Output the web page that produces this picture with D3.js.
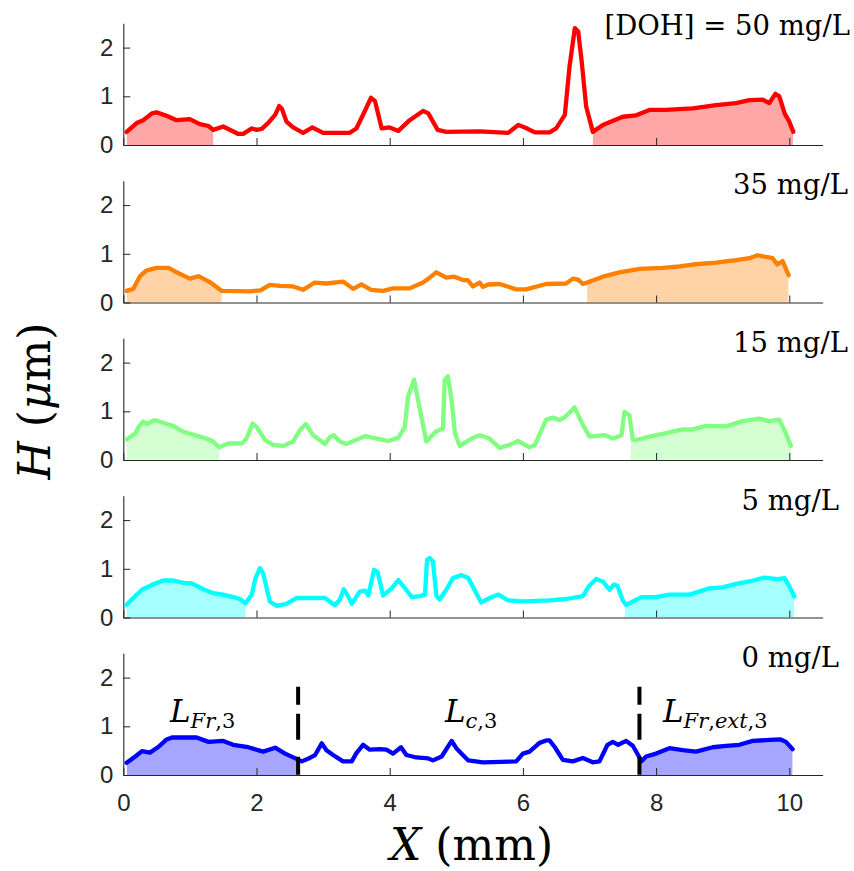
<!DOCTYPE html>
<html><head><meta charset="utf-8">
<script src="https://cdn.jsdelivr.net/npm/d3@7"></script>
<style>html,body{margin:0;padding:0;background:#fff}</style>
</head><body>
<div id="chart"></div>
<script>
// ---- data (X in mm, H in µm) ----
const panelLabels = ["[DOH] = 50 mg/L", "35 mg/L", "15 mg/L", "5 mg/L", "0 mg/L"];
const seriesColors = ["#ff0000", "#ff8000", "#80ff80", "#00ffff", "#0000ff"];
const xTicks = [0, 2, 4, 6, 8, 10];
const yTicks = [0, 1, 2];

const h50 = [[0.05,0.27],[0.2,0.45],[0.3,0.51],[0.43,0.65],[0.5,0.67],[0.65,0.6],[0.8,0.51],[1.0,0.53],[1.15,0.43],[1.28,0.39],[1.35,0.31],[1.5,0.38],[1.72,0.23],[1.8,0.23],[1.93,0.34],[2.0,0.31],[2.08,0.33],[2.18,0.46],[2.28,0.62],[2.34,0.8],[2.38,0.75],[2.45,0.48],[2.55,0.36],[2.7,0.25],[2.84,0.36],[3.0,0.25],[3.4,0.25],[3.5,0.34],[3.6,0.62],[3.72,0.97],[3.78,0.9],[3.88,0.34],[4.0,0.36],[4.13,0.29],[4.3,0.51],[4.5,0.7],[4.58,0.65],[4.72,0.31],[4.85,0.27],[5.35,0.28],[5.78,0.25],[5.93,0.41],[6.03,0.36],[6.18,0.26],[6.4,0.26],[6.5,0.34],[6.63,0.62],[6.7,1.61],[6.78,2.4],[6.83,2.33],[6.88,1.75],[6.95,0.79],[7.05,0.27],[7.2,0.41],[7.5,0.58],[7.7,0.61],[7.9,0.72],[8.15,0.72],[8.55,0.75],[8.9,0.82],[9.2,0.86],[9.4,0.92],[9.6,0.93],[9.7,0.86],[9.79,1.05],[9.85,1.0],[9.93,0.65],[10.0,0.48],[10.06,0.27]];
const h35 = [[0.05,0.24],[0.15,0.28],[0.25,0.54],[0.35,0.66],[0.5,0.71],[0.68,0.71],[0.8,0.62],[1.0,0.49],[1.13,0.54],[1.3,0.42],[1.475,0.24],[1.9,0.23],[2.06,0.25],[2.2,0.36],[2.35,0.34],[2.55,0.33],[2.7,0.26],[2.875,0.41],[3.05,0.39],[3.3,0.43],[3.45,0.28],[3.575,0.37],[3.72,0.26],[3.9,0.24],[4.05,0.29],[4.3,0.29],[4.5,0.41],[4.6,0.51],[4.7,0.62],[4.85,0.51],[4.97,0.53],[5.1,0.46],[5.17,0.46],[5.25,0.33],[5.35,0.41],[5.4,0.32],[5.48,0.37],[5.65,0.38],[5.9,0.27],[6.05,0.27],[6.35,0.38],[6.65,0.39],[6.75,0.49],[6.83,0.47],[6.9,0.38],[6.965,0.41],[7.2,0.53],[7.45,0.62],[7.75,0.69],[8.1,0.71],[8.35,0.74],[8.55,0.78],[8.9,0.82],[9.2,0.87],[9.4,0.91],[9.525,0.97],[9.75,0.91],[9.82,0.78],[9.9,0.85],[9.99,0.56]];
const h15 = [[0.05,0.42],[0.18,0.55],[0.23,0.68],[0.3,0.79],[0.35,0.74],[0.475,0.82],[0.63,0.75],[0.75,0.7],[0.9,0.58],[1.05,0.52],[1.25,0.44],[1.35,0.38],[1.44,0.26],[1.575,0.34],[1.78,0.34],[1.85,0.44],[1.94,0.75],[2.0,0.68],[2.13,0.41],[2.25,0.31],[2.4,0.29],[2.55,0.38],[2.65,0.61],[2.74,0.74],[2.85,0.51],[3.03,0.33],[3.1,0.47],[3.16,0.51],[3.25,0.38],[3.35,0.33],[3.63,0.49],[3.85,0.43],[3.975,0.39],[4.13,0.46],[4.225,0.67],[4.275,1.3],[4.365,1.65],[4.45,1.06],[4.55,0.38],[4.69,0.58],[4.8,0.65],[4.825,1.64],[4.875,1.72],[4.93,1.22],[4.98,0.55],[5.05,0.29],[5.23,0.44],[5.35,0.51],[5.5,0.44],[5.65,0.25],[5.8,0.31],[5.925,0.39],[6.1,0.26],[6.18,0.31],[6.35,0.83],[6.45,0.87],[6.55,0.82],[6.63,0.88],[6.775,1.08],[6.9,0.72],[7.0,0.48],[7.23,0.51],[7.35,0.44],[7.48,0.51],[7.525,0.99],[7.6,0.92],[7.65,0.42],[7.7,0.41],[7.9,0.48],[8.15,0.55],[8.4,0.63],[8.55,0.63],[8.75,0.7],[9.05,0.69],[9.3,0.8],[9.55,0.85],[9.7,0.8],[9.85,0.83],[9.93,0.6],[10.025,0.29]];
const h5 = [[0.05,0.26],[0.15,0.4],[0.28,0.57],[0.43,0.67],[0.6,0.76],[0.75,0.76],[0.9,0.71],[1.03,0.7],[1.2,0.58],[1.35,0.5],[1.5,0.47],[1.65,0.42],[1.75,0.38],[1.835,0.29],[1.93,0.47],[1.985,0.81],[2.05,1.01],[2.1,0.91],[2.2,0.33],[2.3,0.24],[2.45,0.28],[2.6,0.4],[2.85,0.4],[3.03,0.4],[3.175,0.25],[3.25,0.36],[3.31,0.58],[3.37,0.45],[3.43,0.28],[3.55,0.53],[3.63,0.55],[3.68,0.45],[3.765,0.98],[3.82,0.93],[3.9,0.45],[4.03,0.6],[4.13,0.77],[4.23,0.6],[4.33,0.42],[4.45,0.44],[4.53,0.47],[4.56,1.18],[4.6,1.22],[4.65,1.15],[4.7,0.45],[4.75,0.37],[4.85,0.57],[4.95,0.81],[5.08,0.87],[5.18,0.81],[5.28,0.55],[5.375,0.31],[5.5,0.4],[5.63,0.47],[5.78,0.35],[6.0,0.33],[6.4,0.35],[6.65,0.38],[6.9,0.44],[6.99,0.64],[7.1,0.79],[7.2,0.74],[7.3,0.57],[7.37,0.68],[7.42,0.65],[7.5,0.35],[7.55,0.26],[7.78,0.42],[8.0,0.42],[8.2,0.47],[8.5,0.47],[8.8,0.6],[9.0,0.62],[9.2,0.69],[9.4,0.74],[9.625,0.82],[9.83,0.79],[9.93,0.81],[10.0,0.64],[10.075,0.43]];
const h0 = [[0.05,0.25],[0.18,0.38],[0.28,0.49],[0.4,0.46],[0.53,0.58],[0.65,0.73],[0.73,0.77],[1.1,0.77],[1.28,0.68],[1.5,0.7],[1.65,0.62],[1.85,0.58],[2.1,0.48],[2.28,0.56],[2.43,0.44],[2.6,0.33],[2.68,0.28],[2.8,0.35],[2.88,0.41],[2.98,0.65],[3.05,0.51],[3.15,0.41],[3.3,0.28],[3.43,0.28],[3.5,0.45],[3.6,0.62],[3.7,0.52],[3.85,0.53],[3.95,0.52],[4.05,0.44],[4.17,0.57],[4.25,0.41],[4.4,0.36],[4.58,0.34],[4.65,0.3],[4.78,0.38],[4.93,0.7],[5.0,0.55],[5.18,0.3],[5.4,0.26],[5.9,0.28],[6.0,0.44],[6.1,0.48],[6.25,0.66],[6.35,0.71],[6.4,0.71],[6.48,0.57],[6.6,0.31],[6.75,0.28],[6.9,0.35],[7.05,0.26],[7.15,0.28],[7.27,0.62],[7.35,0.68],[7.43,0.62],[7.55,0.7],[7.65,0.6],[7.73,0.41],[7.78,0.28],[7.85,0.38],[8.0,0.44],[8.2,0.55],[8.4,0.51],[8.6,0.48],[8.85,0.57],[9.05,0.6],[9.25,0.62],[9.45,0.7],[9.7,0.72],[9.87,0.73],[9.95,0.68],[10.05,0.53]];

// shaded front regions [start, end] in mm
const fills50 = [[0.05,1.35],[7.05,10.06]];
const fills35 = [[0.05,1.475],[6.965,9.99]];
const fills15 = [[0.05,1.44],[7.62,10.025]];
const fills5  = [[0.05,1.835],[7.535,10.075]];
const fills0  = [[0.05,2.625],[7.75,10.05]];

// boundaries on the 0 mg/L panel
const boundaries = [2.625, 7.75];
const boundaryTop = 1.81;

const series = [h50, h35, h15, h5, h0];
const fillRanges = [fills50, fills35, fills15, fills5, fills0];

// ---- layout ----
const W = 854, H = 871;
const bottoms = [145, 302.5, 460, 617.5, 775];
const panelH = 121.75;
const axisColor = "#262626";

const svg = d3.select("#chart").append("svg").attr("width", W).attr("height", H);
const x = d3.scaleLinear().domain([0, 10.5]).range([123.3, 822.6]);

series.forEach((data, i) => {
  const y0 = bottoms[i];
  const y = d3.scaleLinear().domain([0, 2.5]).range([y0, y0 - panelH]);
  const g = svg.append("g");

  // fill regions (clipped areas)
  fillRanges[i].forEach((r, j) => {
    const id = `clip-${i}-${j}`;
    svg.append("clipPath").attr("id", id).append("rect")
      .attr("x", x(r[0])).attr("y", y(2.5)).attr("width", x(r[1]) - x(r[0])).attr("height", panelH);
    g.append("path").datum(data)
      .attr("clip-path", `url(#${id})`)
      .attr("fill", seriesColors[i]).attr("fill-opacity", 0.35)
      .attr("d", d3.area().x(d => x(d[0])).y0(y(0)).y1(d => y(d[1])));
  });

  // axes
  const ax = g.append("g").attr("transform", `translate(0,${y0})`)
    .call(d3.axisBottom(x).tickValues(xTicks).tickSizeInner(-7).tickSizeOuter(0).tickPadding(19)
      .tickFormat(i === 4 ? d3.format("d") : () => ""));
  const ay = g.append("g").attr("transform", `translate(${x(0)},0)`)
    .call(d3.axisLeft(y).tickValues(yTicks).tickSizeInner(-7).tickSizeOuter(0).tickPadding(10)
      .tickFormat(d3.format("d")));
  [ax, ay].forEach(a => {
    a.select(".domain").attr("stroke", axisColor).attr("stroke-width", 1.1);
    a.selectAll(".tick line").attr("stroke", axisColor).attr("stroke-width", 1);
    a.selectAll(".tick text").attr("fill", axisColor)
      .style("font-family", "'Liberation Sans', Arial, sans-serif").style("font-size", "24px");
  });

  // line
  g.append("path").datum(data)
    .attr("fill", "none").attr("stroke", seriesColors[i]).attr("stroke-width", 4.3)
    .attr("stroke-linejoin", "round").attr("stroke-linecap", "round")
    .attr("d", d3.line().x(d => x(d[0])).y(d => y(d[1])));

  // panel label
  const lblX = [850, 848, 848, 839, 839][i];
  const lblY = [35, 194, 352, 510, 667][i];
  svg.append("text").attr("x", lblX).attr("y", lblY).attr("text-anchor", "end")
    .style("font-family", "'DejaVu Serif', serif").style("font-size", "27.5px").attr("fill", "#000")
    .text(panelLabels[i]);

  if (i === 4) {
    boundaries.forEach(b => {
      g.append("line").attr("x1", x(b)).attr("x2", x(b)).attr("y1", y(boundaryTop)).attr("y2", y(0))
        .attr("stroke", "#000").attr("stroke-width", 4).attr("stroke-dasharray", "18,9,26,17,18");
    });
  }
});

// region labels in bottom panel
function regionLabel(px, py, sub) {
  const t = svg.append("text").attr("x", px).attr("y", py)
    .style("font-family", "'DejaVu Serif', serif").attr("fill", "#000");
  t.append("tspan").style("font-style", "italic").style("font-size", "31px").text("L");
  sub.forEach((s, k) => {
    const ts = t.append("tspan").style("font-size", "21px").style("font-style", s[1] ? "italic" : "normal").text(s[0]);
    if (k === 0) ts.attr("dy", 6);
  });
}
regionLabel(170, 722, [["Fr", 1], [",3", 0]]);
regionLabel(445, 722, [["c", 1], [",3", 0]]);
regionLabel(663, 722, [["Fr", 1], [",", 0], ["ext", 1], [",3", 0]]);

// axis titles
const xt = svg.append("text").attr("x", 471.5).attr("y", 860).attr("text-anchor", "middle")
  .style("font-family", "'DejaVu Serif', serif").style("font-size", "44px").attr("fill", "#000");
xt.append("tspan").style("font-style", "italic").text("X");
xt.append("tspan").text(" (mm)");

const yt = svg.append("text").attr("transform", "translate(50,401) rotate(-90)").attr("text-anchor", "middle")
  .style("font-family", "'DejaVu Serif', serif").style("font-size", "44px").attr("fill", "#000");
yt.append("tspan").style("font-style", "italic").text("H");
yt.append("tspan").text(" (");
yt.append("tspan").style("font-style", "italic").text("μ");
yt.append("tspan").text("m)");
</script>
</body></html>
